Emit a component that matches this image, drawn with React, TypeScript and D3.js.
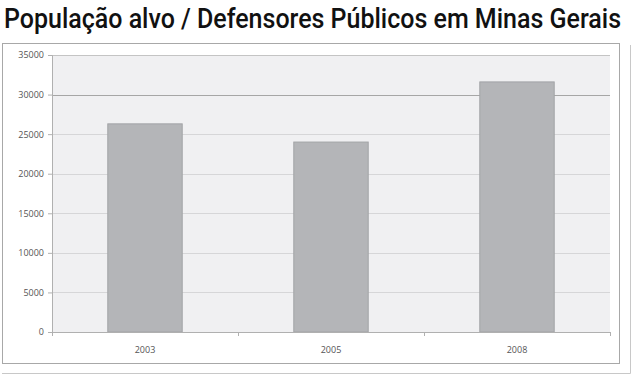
import { useEffect, useRef } from 'react'
import * as d3 from 'd3'

const title = 'População alvo / Defensores Públicos em Minas Gerais'
const years = ['2003', '2005', '2008']
const populacao = [26300, 24000, 31600]
const yTicks = [0, 5000, 10000, 15000, 20000, 25000, 30000, 35000]

export default function App() {
  const svgRef = useRef<SVGSVGElement>(null)

  useEffect(() => {
    if (!svgRef.current) return
    const svg = d3.select(svgRef.current)
    svg.selectAll('*').remove()

    const plot = { left: 52, right: 610, top: 55, bottom: 332 }

    // titulo
    svg
      .append('text')
      .attr('x', 4)
      .attr('y', 28)
      .attr('font-family', '"Liberation Sans Narrow", Roboto, "DejaVu Sans Condensed", sans-serif')
      .attr('font-size', 27)
      .attr('font-weight', 500)
      .attr('fill', '#111')
      .attr('textLength', 617)
      .attr('lengthAdjust', 'spacingAndGlyphs')
      .text(title)

    // moldura (sombra + caixa)
    svg
      .append('polyline')
      .attr('points', '630.5,45 630.5,373.5 2,373.5')
      .attr('fill', 'none')
      .attr('stroke', '#c8c8c8')
      .attr('stroke-width', 1)
    svg
      .append('rect')
      .attr('x', 2.5)
      .attr('y', 43.5)
      .attr('width', 617)
      .attr('height', 320)
      .attr('fill', '#fff')
      .attr('stroke', '#a8a8a8')

    const x = d3
      .scaleBand<string>()
      .domain(years)
      .range([plot.left, plot.right])
      .paddingInner(0.6)
      .paddingOuter(0.3)

    const y = d3.scaleLinear().domain([0, 35000]).range([plot.bottom, plot.top])

    // fundo da area
    svg
      .append('rect')
      .attr('x', plot.left)
      .attr('y', plot.top)
      .attr('width', plot.right - plot.left)
      .attr('height', plot.bottom - plot.top)
      .attr('fill', '#f0f0f2')

    // grade
    svg
      .append('g')
      .selectAll('line')
      .data(yTicks.filter((t) => t > 0))
      .join('line')
      .attr('x1', plot.left)
      .attr('x2', plot.right)
      .attr('y1', (d) => Math.round(y(d)) + 0.5)
      .attr('y2', (d) => Math.round(y(d)) + 0.5)
      .attr('stroke', (d) => (d === 30000 ? '#a6a6a6' : d === 35000 ? '#c4c4c4' : '#d6d6d8'))

    // barras
    svg
      .append('g')
      .selectAll('rect')
      .data(populacao)
      .join('rect')
      .attr('x', (_, i) => x(years[i]) ?? 0)
      .attr('y', (d) => y(d))
      .attr('width', x.bandwidth())
      .attr('height', (d) => y(0) - y(d))
      .attr('fill', '#b4b5b8')
      .attr('stroke', '#a2a3a6')
      .attr('stroke-width', 1)

    // eixo y
    svg
      .append('g')
      .attr('transform', `translate(${plot.left},0)`)
      .call(
        d3
          .axisLeft(y)
          .tickValues(yTicks)
          .tickSize(4)
          .tickPadding(4)
          .tickFormat((d) => String(d))
      )
      .call((g) => g.select('.domain').attr('stroke', '#b0b0b0'))
      .call((g) => g.selectAll('.tick line').attr('stroke', '#b0b0b0'))
      .call((g) =>
        g
          .selectAll('.tick text')
          .attr('fill', '#555')
          .attr('font-size', '9px')
          .attr('font-family', '"Open Sans", "DejaVu Sans", sans-serif')
      )

    // eixo x
    const xAxis = svg.append('g').attr('transform', `translate(0,${plot.bottom})`)
    xAxis
      .append('line')
      .attr('x1', plot.left)
      .attr('x2', plot.right)
      .attr('y1', 0.5)
      .attr('y2', 0.5)
      .attr('stroke', '#b0b0b0')
    const step = x.step()
    xAxis
      .selectAll('line.tk')
      .data(d3.range(years.length + 1))
      .join('line')
      .attr('class', 'tk')
      .attr('x1', (i) => Math.round(plot.left + i * step) + 0.5)
      .attr('x2', (i) => Math.round(plot.left + i * step) + 0.5)
      .attr('y1', 0)
      .attr('y2', 4)
      .attr('stroke', '#b0b0b0')
    xAxis
      .selectAll('text')
      .data(years)
      .join('text')
      .attr('x', (d) => (x(d) ?? 0) + x.bandwidth() / 2)
      .attr('y', 21)
      .attr('text-anchor', 'middle')
      .attr('fill', '#555')
      .attr('font-size', '9px')
      .attr('font-family', '"Open Sans", "DejaVu Sans", sans-serif')
      .text((d) => d)
  }, [])

  return (
    <svg
      ref={svgRef}
      width={640}
      height={375}
      style={{ position: 'absolute', left: 0, top: 0, background: '#fff' }}
    />
  )
}
